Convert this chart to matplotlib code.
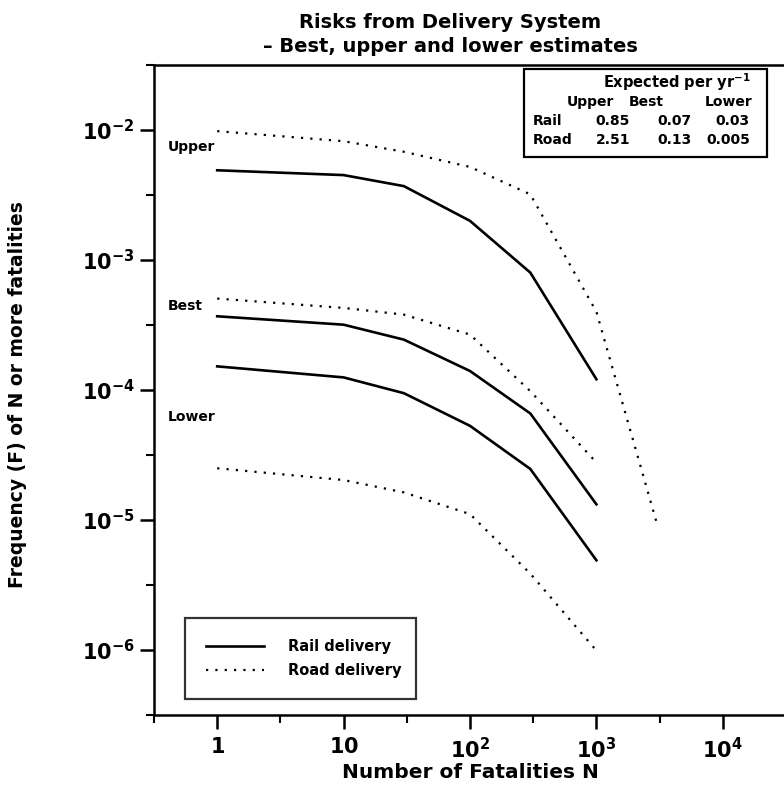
import matplotlib
matplotlib.use("Agg")
import matplotlib.pyplot as plt
from matplotlib.patches import Rectangle

# ---- data ----
n_rail = [1, 10, 30, 100, 300, 1000]
rail_upper = [4.9e-3, 4.5e-3, 3.7e-3, 2.0e-3, 8.0e-4, 1.21e-4]
rail_best = [3.69e-4, 3.18e-4, 2.44e-4, 1.40e-4, 6.6e-5, 1.32e-5]
rail_lower = [1.52e-4, 1.25e-4, 9.45e-5, 5.3e-5, 2.47e-5, 4.9e-6]

n_road_upper = [1, 10, 30, 100, 300, 1000, 3000]
road_upper = [9.8e-3, 8.2e-3, 6.8e-3, 5.2e-3, 3.2e-3, 4.0e-4, 9.5e-6]
n_road = [1, 10, 30, 100, 300, 1000]
road_best = [5.05e-4, 4.28e-4, 3.8e-4, 2.67e-4, 9.8e-5, 2.77e-5]
road_lower = [2.5e-5, 2.03e-5, 1.63e-5, 1.11e-5, 3.87e-6, 9.9e-7]

x_ticks = [1, 10, 100, 1000, 10000]
x_ticklabels = [r"$\mathbf{1}$", r"$\mathbf{10}$", r"$\mathbf{10}^{\mathbf{2}}$",
                r"$\mathbf{10}^{\mathbf{3}}$", r"$\mathbf{10}^{\mathbf{4}}$"]
y_ticks = [1e-6, 1e-5, 1e-4, 1e-3, 1e-2]
y_ticklabels = [r"$\mathbf{10}^{\mathbf{-6}}$", r"$\mathbf{10}^{\mathbf{-5}}$",
                r"$\mathbf{10}^{\mathbf{-4}}$", r"$\mathbf{10}^{\mathbf{-3}}$",
                r"$\mathbf{10}^{\mathbf{-2}}$"]

table_cols = ["Upper", "Best", "Lower"]
table_rows = ["Rail", "Road"]
table_vals = [["0.85", "0.07", "0.03"], ["2.51", "0.13", "0.005"]]

band_labels = ["Upper", "Best", "Lower"]

# ---- figure ----
plt.rcParams['font.family'] = ['DejaVu Sans']
plt.rcParams['mathtext.fontset'] = 'dejavusans'
W, H = 784, 793
fig = plt.figure(figsize=(W / 100, H / 100), dpi=100)
ax = fig.add_axes([154 / W, 1 - 715 / H, 632 / W, 650 / H])
ax.set_xscale('log')
ax.set_yscale('log')
ax.set_xlim(10 ** -0.5, 10 ** 4.5)
ax.set_ylim(10 ** -6.5, 10 ** -1.5)

solid = dict(color='black', lw=1.9, linestyle='-')
dotted = dict(color='black', lw=1.6, linestyle=(0, (1, 3.2)))

l_rail, = ax.plot(n_rail, rail_upper, **solid, label='Rail delivery')
ax.plot(n_rail, rail_best, **solid)
ax.plot(n_rail, rail_lower, **solid)
l_road, = ax.plot(n_road_upper, road_upper, **dotted, label='Road delivery')
ax.plot(n_road, road_best, **dotted)
ax.plot(n_road, road_lower, **dotted)

ax.set_xticks(x_ticks)
ax.set_xticklabels(x_ticklabels)
ax.set_yticks(y_ticks)
ax.set_yticklabels(y_ticklabels)
minor_x = [10 ** (k + 0.5) for k in range(-1, 5)]
minor_y = [10 ** (k + 0.5) for k in range(-7, -1)]
ax.set_xticks(minor_x, minor=True)
ax.set_yticks(minor_y, minor=True)
ax.xaxis.set_minor_formatter(matplotlib.ticker.NullFormatter())
ax.yaxis.set_minor_formatter(matplotlib.ticker.NullFormatter())
ax.tick_params(which='major', direction='out', length=10, width=1.8, labelsize=15)
ax.tick_params(axis='y', which='major', pad=4)
ax.tick_params(axis='x', which='major', pad=6)
ax.tick_params(which='minor', direction='out', length=5.5, width=1.5)
for s in ['left', 'bottom', 'top']:
    ax.spines[s].set_linewidth(1.8)
ax.spines['right'].set_visible(False)

fig.text(470 / W, 1 - 773 / H, "Number of Fatalities N", fontsize=14.5, fontweight='bold',
         ha='center', va='center')
fig.text(18 / W, 1 - 395 / H, "Frequency (F) of N or more fatalities", rotation=90,
         fontsize=13.5, fontweight='bold', ha='center', va='center')

fig.text(450 / W, 1 - 22 / H, "Risks from Delivery System", fontsize=14,
         fontweight='bold', ha='center', va='center')
fig.text(450 / W, 1 - 47 / H, "– Best, upper and lower estimates", fontsize=14,
         fontweight='bold', ha='center', va='center')

# band labels
for lab, py in zip(band_labels, [147, 306, 417]):
    fig.text(168 / W, 1 - py / H, lab, fontsize=10, fontweight='bold', ha='left', va='center')

# legend
leg = ax.legend(handles=[l_rail, l_road],
                labels=['Rail delivery', 'Road delivery'],
                loc='lower left', mode='expand',
                bbox_to_anchor=((185 - 154) / 632, (715 - 699) / 650, (416 - 185) / 632, 0.0),
                prop={'weight': 'bold', 'size': 10.5}, frameon=True, fancybox=False,
                edgecolor='black', handlelength=4.0, handletextpad=1.6,
                borderpad=1.45, labelspacing=0.6, borderaxespad=0)
leg.get_frame().set_linewidth(1.6)

# table box
fig.patches.append(Rectangle((524 / W, 1 - 157 / H), (767 - 524) / W, (157 - 69) / H,
                             transform=fig.transFigure, fill=False, lw=1.6, ec='black'))
fig.text(677 / W, 1 - 82 / H, r"Expected per yr$^{\mathbf{-1}}$", fontsize=10.5, fontweight='bold',
         ha='center', va='center')
col_right = [630, 692, 750]
head_center = [590, 646, 729]
for c, lab in enumerate(table_cols):
    fig.text(head_center[c] / W, 1 - 102 / H, lab, fontsize=10, fontweight='bold',
             ha='center', va='center')
for r, (rl, py) in enumerate(zip(table_rows, [121, 140])):
    fig.text(533 / W, 1 - py / H, rl, fontsize=10, fontweight='bold', ha='left', va='center')
    for c in range(3):
        fig.text(col_right[c] / W, 1 - py / H, table_vals[r][c], fontsize=10,
                 fontweight='bold', ha='right', va='center')

fig.savefig("out.png", dpi=100)
